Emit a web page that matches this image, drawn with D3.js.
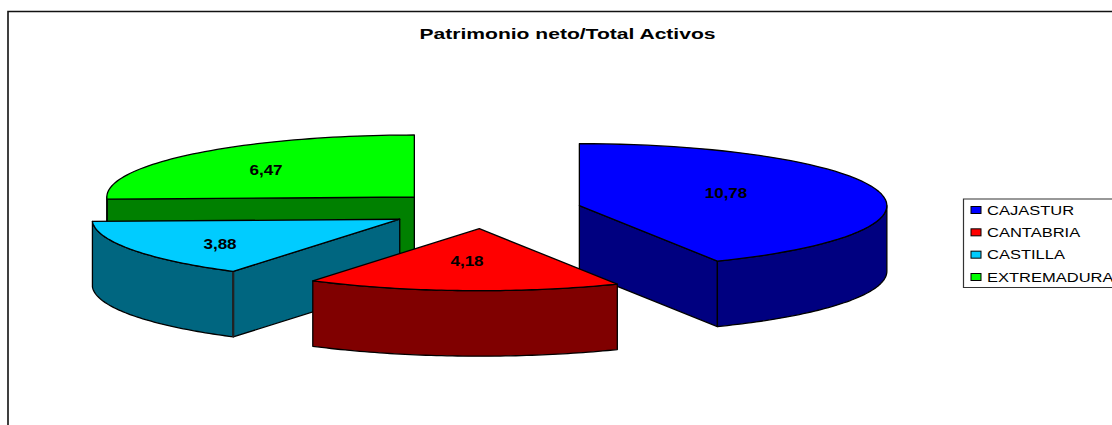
<!DOCTYPE html>
<html><head><meta charset="utf-8">
<script src="https://cdn.jsdelivr.net/npm/d3@7"></script>
<style>html,body{margin:0;padding:0;background:#fff;overflow:hidden}svg{display:block}text{font-family:"Liberation Sans",Arial,sans-serif}</style>
</head><body><div id="c"></div>
<script>
const categories = ["CAJASTUR","CANTABRIA","CASTILLA","EXTREMADURA"];
const values = [10.78,4.18,3.88,6.47];
const labels = ["10,78","4,18","3,88","6,47"];
const topColors = ["#0000FF","#FF0000","#00CCFF","#00FF00"];
const sideColors = ["#000080","#800000","#006680","#008000"];
const title = "Patrimonio neto/Total Activos";

const W=1112,H=425;
const svg=d3.select("#c").append("svg").attr("width",W).attr("height",H);
// frame
svg.append("path").attr("d","M8,425V11.5H1112").attr("fill","none").attr("stroke","#111").attr("stroke-width",1.6);
svg.append("text").attr("x",567.5).attr("y",38.5).attr("text-anchor","middle").attr("font-size",14.5).attr("font-weight","bold").attr("textLength",296).attr("lengthAdjust","spacingAndGlyphs").text(title);

// pie geometry (squashed 3D)
const cx=484.5,cy=210,rx=307.5,ry=62,depth=65.5,exX=97.5,exY=18.7;
const arcs=d3.pie().sort(null).startAngle(0).endAngle(2*Math.PI)(values);
const line=d3.line();
const pt=(d,a,dz=0)=>{
  const mid=(d.startAngle+d.endAngle)/2;
  const ax=cx+exX*Math.sin(mid), ay=cy-exY*Math.cos(mid);
  return a==null?[ax,ay+dz]:[ax+rx*Math.sin(a),ay-ry*Math.cos(a)+dz];
};
const sweep=(d,a0,a1,dz=0)=>d3.range(0,61).map(i=>pt(d,a0+(a1-a0)*i/60,dz));
const stroke=s=>s.attr("stroke","#000").attr("stroke-width",1.3).attr("stroke-linejoin","round");

function drawSlice(i){
  const d=arcs[i], g=svg.append("g");
  const a0=d.startAngle,a1=d.endAngle;
  const face=p=>stroke(g.append("path").attr("d",line(p)+"Z").attr("fill",sideColors[i]));
  const cut=(a)=>face([pt(d,null),pt(d,a),pt(d,a,depth),pt(d,null,depth)]);
  if(i===0) cut(a1);
  if(i===2) cut(a0);
  if(i===3) cut(a0);
  const v0=Math.max(a0,Math.PI/2), v1=Math.min(a1,3*Math.PI/2);
  if(v1>v0){
    face(sweep(d,v0,v1).concat(sweep(d,v1,v0,depth)));
  }
  if(i===2){ // doubled edge between the two visible walls
    g.append("path").attr("d",line([pt(d,a0),pt(d,a0,depth)])).attr("stroke","#222").attr("stroke-width",2.2).attr("fill","none");
  }
  stroke(g.append("path").attr("d",line([pt(d,null)].concat(sweep(d,a0,a1)))+"Z").attr("fill",topColors[i]));
}
[3,2,0,1].forEach(drawSlice);

// data labels
const labelPos=[[726,192.5],[467,260.5],[220,243.5],[266,170]];
svg.append("g").selectAll("text").data(labels).join("text")
  .attr("transform",(d,i)=>`translate(${labelPos[i][0]},${labelPos[i][1]+5}) scale(1.22,1)`)
  .attr("text-anchor","middle").attr("font-size",14).attr("font-weight","bold").attr("fill","#000").text(d=>d);

// legend
const lg=svg.append("g");
lg.append("path").attr("d","M1113,199H963.5V287.5H1113").attr("fill","#fff").attr("stroke","#333").attr("stroke-width",1.2);
const ly=d3.scalePoint().domain(categories).range([210,277]);
categories.forEach((c,i)=>{
  lg.append("rect").attr("x",971).attr("y",ly(c)-3.5).attr("width",10).attr("height",7).attr("fill",topColors[i]).attr("stroke","#000").attr("stroke-width",1);
  lg.append("text").attr("transform",`translate(987,${ly(c)+4.5}) scale(1.27,1)`).attr("font-size",13).attr("fill","#000").text(c);
});
</script></body></html>
